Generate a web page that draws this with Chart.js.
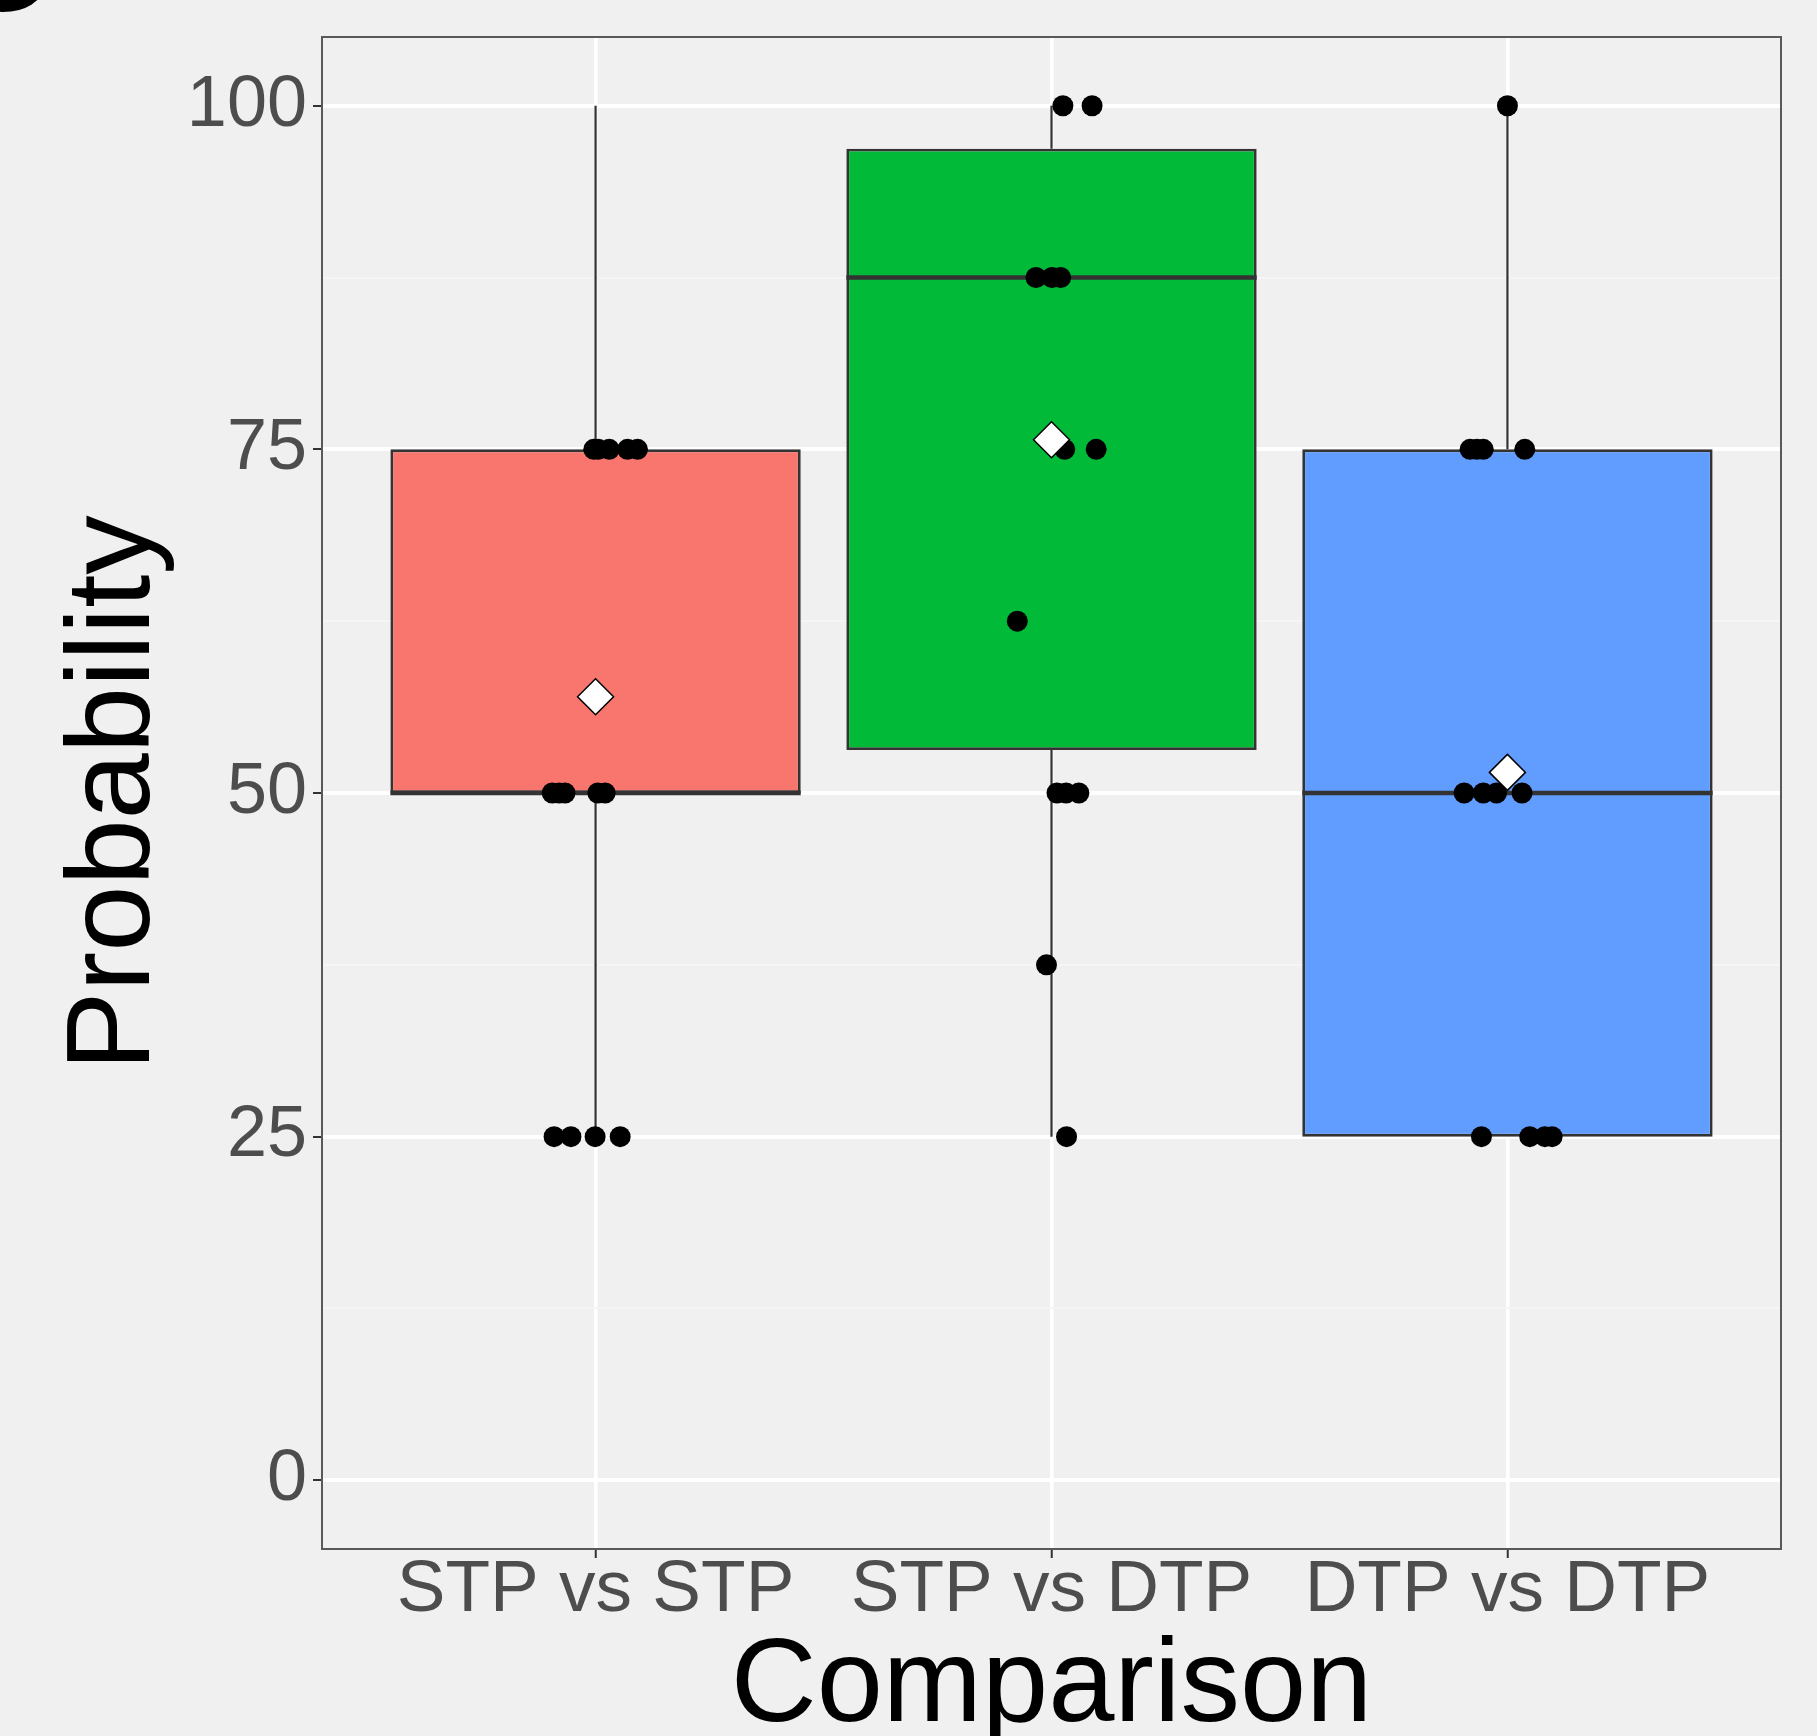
<!DOCTYPE html>
<html>
<head>
<meta charset="utf-8">
<script src="https://cdn.jsdelivr.net/npm/chart.js@4.4.1/dist/chart.umd.min.js"></script>
<style>
  html, body { margin: 0; padding: 0; background: #f0f0f0; }
  canvas { display: block; }
</style>
</head>
<body>
<canvas id="chart" width="1817" height="1736"></canvas>
<script>
// ---- data ----
const categories = [ 'STP vs STP', 'STP vs DTP', 'DTP vs DTP' ];
const fillColors = [ '#F8766D', '#00BA38', '#619CFF' ];

const whiskerLow  = [ 25, 25, 25 ];
const boxLower    = [ 50, 53.125, 25 ];     // Q1
const medians     = [ 50, 87.5, 50 ];
const boxUpper    = [ 75, 96.875, 75 ];     // Q3
const whiskerHigh = [ 100, 100, 100 ];
const means       = [ 57.0, 75.7, 51.5 ];

// individual responses + their horizontal jitter (in category units)
const stpStpValues = [ 75, 75, 75, 75, 75, 50, 50, 50, 50, 50, 25, 25, 25, 25 ];
const stpStpJitter = [ -0.004, 0.006, 0.03, 0.07, 0.092, -0.095, -0.08, -0.067, 0.005, 0.021, -0.091, -0.054, -0.001, 0.054 ];

const stpDtpValues = [ 100, 100, 87.5, 87.5, 87.5, 75, 75, 62.5, 50, 50, 50, 37.5, 25 ];
const stpDtpJitter = [ 0.025, 0.089, -0.034, 0.001, 0.02, 0.029, 0.098, -0.075, 0.012, 0.032, 0.06, -0.011, 0.033 ];

const dtpDtpValues = [ 100, 75, 75, 75, 75, 50, 50, 50, 50, 25, 25, 25, 25 ];
const dtpDtpJitter = [ 0, -0.082, -0.067, -0.053, 0.038, -0.095, -0.053, -0.024, 0.032, -0.057, 0.049, 0.082, 0.098 ];

const yMajorTicks = [ 0, 25, 50, 75, 100 ];
const yMinorTicks = [ 12.5, 37.5, 62.5, 87.5 ];

// ---- styling ----
const FONT = "'Liberation Sans', Arial, Helvetica, sans-serif";
const BOX_HALF = 0.45;
const LINE_COL = '#333333';

const groups = [
    { values: stpStpValues, jitter: stpStpJitter },
    { values: stpDtpValues, jitter: stpDtpJitter },
    { values: dtpDtpValues, jitter: dtpDtpJitter }
];

function pointData () {
    const out = [];
    groups.forEach( ( g, i ) => {
        g.values.forEach( ( v, k ) => out.push( { x: i + 1 + g.jitter[ k ], y: v } ) );
    } );
    return out;
}

function whiskerData () {
    const out = [];
    categories.forEach( ( c, i ) => {
        const x = i + 1;
        out.push( { x, y: whiskerHigh[ i ] }, { x, y: boxUpper[ i ] }, { x, y: null } );
        out.push( { x, y: boxLower[ i ] }, { x, y: whiskerLow[ i ] }, { x, y: null } );
    } );
    return out;
}

function medianData () {
    const out = [];
    medians.forEach( ( m, i ) => {
        const x = i + 1;
        out.push( { x: x - BOX_HALF, y: m }, { x: x + BOX_HALF, y: m }, { x: x + BOX_HALF, y: null } );
    } );
    return out;
}

const isMajor = v => yMajorTicks.includes( v );

// ggplot style border round the panel, plus the clipped panel letter
const panelBorder = {
    id: 'panelBorder',
    afterDatasetsDraw ( chart ) {
        const { ctx, chartArea: a } = chart;
        ctx.save();
        ctx.strokeStyle = '#595959';
        ctx.lineWidth = 2;
        ctx.strokeRect( a.left, a.top, a.right - a.left, a.bottom - a.top );
        ctx.restore();
    },
    afterDraw ( chart ) {
        const ctx = chart.ctx;
        ctx.save();
        ctx.fillStyle = '#000';
        ctx.font = 'bold 150px ' + FONT;
        ctx.textBaseline = 'alphabetic';
        ctx.fillText( 'C', -55, 11 );
        ctx.restore();
    }
};

new Chart( document.getElementById( 'chart' ), {
    type: 'scatter',
    data: {
        datasets: [
            {
                type: 'scatter',
                data: means.map( ( m, i ) => ( { x: i + 1, y: m } ) ),
                pointStyle: 'rectRot',
                pointRadius: 18,
                backgroundColor: '#ffffff',
                borderColor: '#000000',
                borderWidth: 1.5,
                order: 0
            },
            {
                type: 'scatter',
                data: pointData(),
                pointRadius: 10.5,
                backgroundColor: '#000000',
                borderWidth: 0,
                order: 1
            },
            {
                type: 'line',
                data: medianData(),
                borderColor: LINE_COL,
                borderWidth: 4.5,
                pointRadius: 0,
                spanGaps: false,
                order: 2
            },
            {
                type: 'bar',
                data: categories.map( ( c, i ) => ( { x: i + 1, y: [ boxLower[ i ], boxUpper[ i ] ] } ) ),
                backgroundColor: fillColors,
                borderColor: LINE_COL,
                borderWidth: 2.8,
                borderSkipped: false,
                categoryPercentage: 1,
                barPercentage: BOX_HALF * 2,
                order: 3
            },
            {
                type: 'line',
                data: whiskerData(),
                borderColor: LINE_COL,
                borderWidth: 2.2,
                pointRadius: 0,
                spanGaps: false,
                order: 4
            }
        ]
    },
    options: {
        responsive: false,
        animation: false,
        layout: { padding: { top: 37, right: 36, left: 0, bottom: 0 } },
        plugins: {
            legend: { display: false },
            tooltip: { enabled: false }
        },
        scales: {
            x: {
                type: 'linear',
                min: 0.4,
                max: 3.6,
                offset: false,
                afterBuildTicks: s => { s.ticks = categories.map( ( c, i ) => ( { value: i + 1 } ) ); },
                afterFit: s => { s.height = 187; s.paddingLeft = 0; s.paddingRight = 0; },
                ticks: {
                    callback: v => categories[ v - 1 ] || '',
                    color: '#4D4D4D',
                    font: { family: FONT, size: 73, lineHeight: 0.9 },
                    padding: 0,
                    maxRotation: 0,
                    autoSkip: false
                },
                grid: {
                    offset: false,
                    color: '#ffffff',
                    lineWidth: 3.5,
                    tickColor: LINE_COL,
                    tickLength: 9,
                    tickWidth: 2
                },
                border: { display: false },
                title: {
                    display: true,
                    text: 'Comparison',
                    color: '#000000',
                    font: { family: FONT, size: 119, lineHeight: 0.8 },
                    padding: { top: 0, bottom: 0 }
                }
            },
            y: {
                type: 'linear',
                min: -5,
                max: 105,
                afterBuildTicks: s => {
                    s.ticks = yMajorTicks.concat( yMinorTicks ).sort( ( a, b ) => a - b ).map( v => ( { value: v } ) );
                },
                afterFit: s => { s.width = 322; s.paddingTop = 0; s.paddingBottom = 0; },
                ticks: {
                    callback: v => isMajor( v ) ? String( v ) : '',
                    color: '#4D4D4D',
                    font: { family: FONT, size: 72 },
                    padding: 6,
                    autoSkip: false
                },
                grid: {
                    color: ctx => isMajor( ctx.tick.value ) ? '#ffffff' : '#f5f5f5',
                    lineWidth: ctx => isMajor( ctx.tick.value ) ? 4 : 2,
                    tickColor: ctx => isMajor( ctx.tick.value ) ? LINE_COL : 'rgba(0,0,0,0)',
                    tickLength: 9,
                    tickWidth: 2
                },
                border: { display: false },
                title: {
                    display: true,
                    text: 'Probability',
                    color: '#000000',
                    font: { family: FONT, size: 119 },
                    padding: { top: 45, bottom: 0 }
                }
            }
        }
    },
    plugins: [ panelBorder ]
} );
</script>
</body>
</html>
